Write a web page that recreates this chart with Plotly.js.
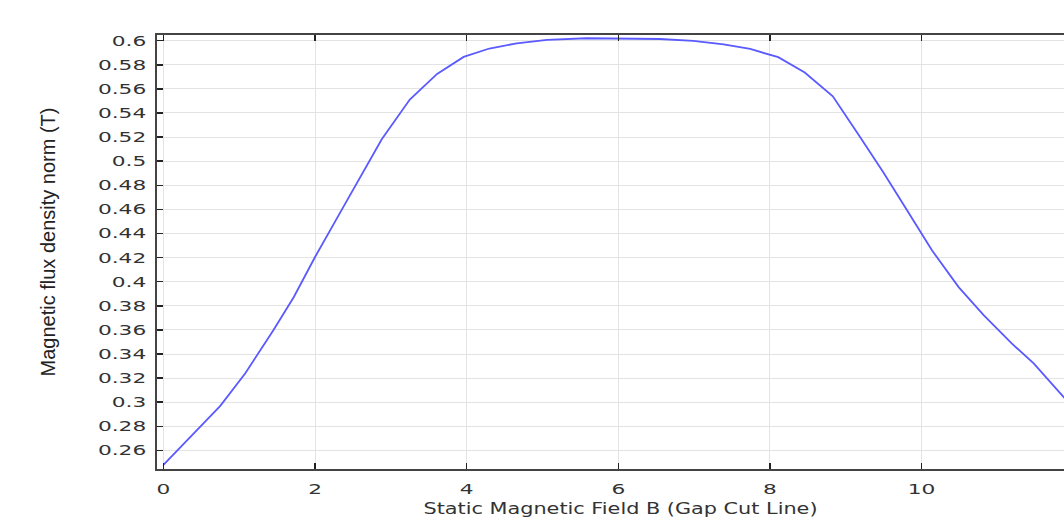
<!DOCTYPE html>
<html>
<head>
<meta charset="utf-8">
<script src="https://cdn.plot.ly/plotly-3.0.1.min.js"></script>
<style>
html, body { margin: 0; padding: 0; background: #fff; }
#chart { width: 1064px; height: 522px; }
</style>
</head>
<body>
<div id="chart"></div>
<script>
// Arc length along the gap cut line
var arcLength = [0, 0.33, 0.75, 1.08, 1.45, 1.72, 2.0, 2.37, 2.59, 2.88, 3.25, 3.61, 3.96, 4.30, 4.66, 5.06, 5.58, 6.02, 6.55, 6.99, 7.39, 7.74, 8.11, 8.46, 8.83, 9.17, 9.50, 9.76, 10.0, 10.14, 10.49, 10.82, 11.19, 11.48, 11.87, 12.0];
// Magnetic flux density norm (T)
var fluxNorm = [0.248, 0.2694, 0.297, 0.324, 0.3598, 0.3873, 0.4205, 0.4617, 0.4864, 0.5182, 0.5512, 0.5724, 0.5865, 0.5935, 0.5978, 0.6006, 0.602, 0.602, 0.6014, 0.5998, 0.597, 0.5931, 0.5863, 0.5736, 0.5538, 0.522, 0.4904, 0.4643, 0.4397, 0.4259, 0.3955, 0.3722, 0.3488, 0.3322, 0.3046, 0.296];

var xTickVals = [0, 2, 4, 6, 8, 10, 12];
var xTickText = ['0', '2', '4', '6', '8', '10', '12'];
var yTickVals = [0.26, 0.28, 0.30, 0.32, 0.34, 0.36, 0.38, 0.40, 0.42, 0.44, 0.46, 0.48, 0.50, 0.52, 0.54, 0.56, 0.58, 0.60];
var yTickText = ['0.26', '0.28', '0.3', '0.32', '0.34', '0.36', '0.38', '0.4', '0.42', '0.44', '0.46', '0.48', '0.5', '0.52', '0.54', '0.56', '0.58', '0.6'];

var trace = {
  x: arcLength,
  y: fluxNorm,
  type: 'scatter',
  mode: 'lines',
  line: { color: '#5a5aff', width: 1.8 },
  hoverinfo: 'x+y'
};

var tickFont = { family: 'DejaVu Sans', size: 14, color: '#333333' };

var layout = {
  width: 1064,
  height: 522,
  margin: { l: 157, r: 0, t: 35, b: 53, pad: 0 },
  paper_bgcolor: '#ffffff',
  plot_bgcolor: '#ffffff',
  showlegend: false,
  xaxis: {
    range: [-0.085, 11.88],
    tickmode: 'array',
    tickvals: xTickVals,
    ticktext: xTickText,
    ticks: 'inside',
    ticklen: 6,
    tickwidth: 1.5,
    tickcolor: '#222222',
    showline: true,
    linecolor: '#444444',
    linewidth: 2,
    mirror: 'ticks',
    showgrid: true,
    gridcolor: '#e3e3e3',
    gridwidth: 1,
    zeroline: false,
    tickfont: tickFont,
    ticklabelstandoff: 6,
    title: { text: 'Static Magnetic Field B (Gap Cut Line)', font: { family: 'DejaVu Sans', size: 15, color: '#333333' }, standoff: 8 }
  },
  yaxis: {
    range: [0.2446, 0.6047],
    tickmode: 'array',
    tickvals: yTickVals,
    ticktext: yTickText,
    ticks: 'inside',
    ticklen: 6,
    tickwidth: 1.5,
    tickcolor: '#222222',
    showline: true,
    linecolor: '#444444',
    linewidth: 2,
    mirror: false,
    showgrid: true,
    gridcolor: '#e3e3e3',
    gridwidth: 1,
    zeroline: false,
    tickfont: tickFont,
    ticklabelstandoff: 6,
    title: { text: 'Magnetic flux density norm (T)', font: { family: 'Liberation Sans', size: 20, color: '#222222' }, standoff: 50 }
  }
};

Plotly.newPlot('chart', [trace], layout, { displayModeBar: false, staticPlot: true }).then(function (gd) {
  // the reference renders tick labels and the x title horizontally stretched
  var nodes = gd.querySelectorAll('.xtick text, .ytick text');
  nodes.forEach(function (t) {
    var len = t.getComputedTextLength();
    t.setAttribute('textLength', (len * 1.55).toFixed(1));
    t.setAttribute('lengthAdjust', 'spacingAndGlyphs');
  });
  var xt = gd.querySelector('.g-xtitle text');
  if (xt) {
    xt.setAttribute('textLength', '394');
    xt.setAttribute('lengthAdjust', 'spacingAndGlyphs');
    xt.setAttribute('x', (parseFloat(xt.getAttribute('x')) + 10).toFixed(1));
  }
  var yt = gd.querySelector('.g-ytitle text');
  if (yt) {
    var tr = yt.getAttribute('transform') || '';
    yt.setAttribute('transform', 'translate(-4,-10) ' + tr);
  }
});
</script>
</body>
</html>
